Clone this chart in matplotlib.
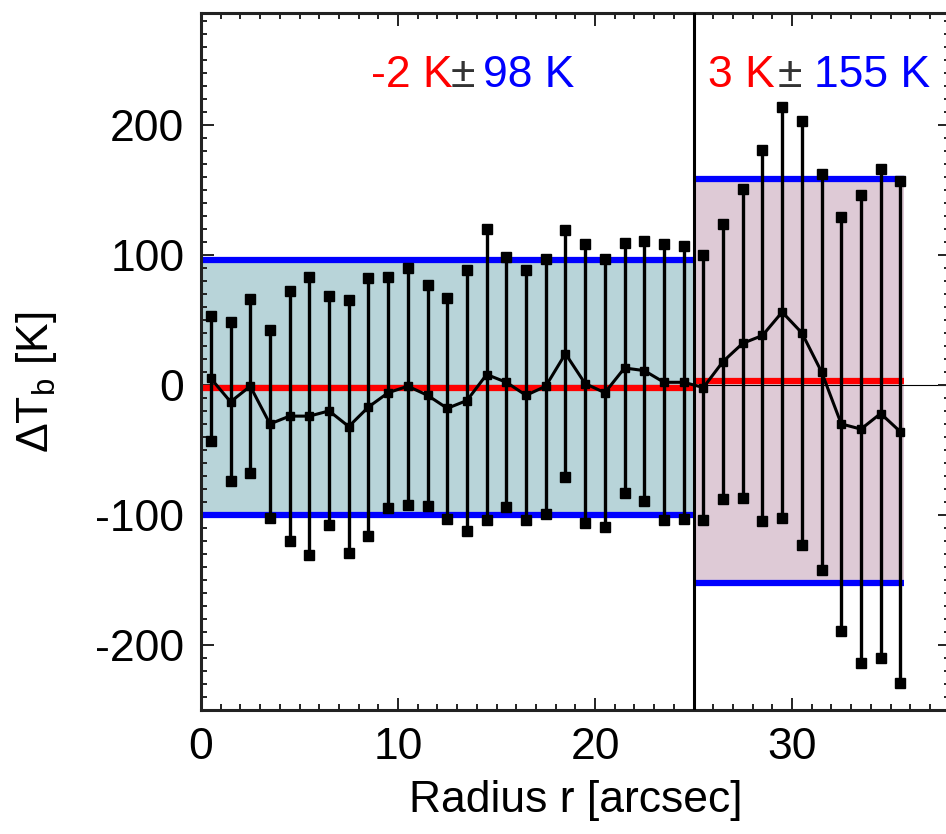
import numpy as np
import matplotlib
matplotlib.use('Agg')
import matplotlib.pyplot as plt
from matplotlib.ticker import MultipleLocator

plt.rcParams['font.family'] = ['Liberation Sans', 'DejaVu Sans']
plt.rcParams['mathtext.fontset'] = 'custom'
plt.rcParams['mathtext.rm'] = 'Liberation Sans'
plt.rcParams['mathtext.it'] = 'Liberation Sans:italic'
plt.rcParams['axes.unicode_minus'] = False

# radial bins [arcsec] and brightness temperature residuals [K]
radius = np.arange(0.5, 36.0, 1.0)
dtb = [5, -13, -1, -30, -24, -24, -20, -32, -17, -6,
       -1, -8, -18, -12, 8, 2, -8, -1, 24, 1,
       -6, 13, 11, 2, 2,
       -2, 18, 32, 38, 56, 40, 10, -30, -34, -22, -36]
dtb_err = [48, 61, 67, 72, 96, 107, 88, 97, 99, 89,
           91, 85, 85, 100, 112, 96, 96, 98, 95, 107,
           103, 96, 100, 106, 105,
           102, 106, 119, 143, 158, 163, 152, 159, 180, 188, 193]

# region boundaries and region statistics (mean, rms)
r_split = 25.0
r_end = 35.7
inner_mean, inner_rms = -2, 98
outer_mean, outer_rms = 3, 155

radius = np.asarray(radius)
dtb = np.asarray(dtb, dtype=float)
dtb_err = np.asarray(dtb_err, dtype=float)

fig = plt.figure(figsize=(9.46, 8.34), dpi=100)
ax = fig.add_axes([201/946, 1-710/834, (949.6-201)/946, (710-13)/834])

fs = 32

# shaded regions
ax.fill_between([0, r_split], inner_mean - inner_rms, inner_mean + inner_rms,
                color='#b8d4d9', lw=0, zorder=1)
ax.fill_between([r_split, r_end], outer_mean - outer_rms, outer_mean + outer_rms,
                color='#decad6', lw=0, zorder=1)
ax.axhline(0, color='k', lw=0.8, zorder=1.5)

# mean and +/- rms lines
ax.plot([0, r_split], [inner_mean]*2, color='red', lw=4.5, zorder=2, solid_capstyle='butt')
ax.plot([r_split, r_end], [outer_mean]*2, color='red', lw=4.5, zorder=2, solid_capstyle='butt')
for s in (-1, 1):
    ax.plot([0, r_split], [inner_mean + s*inner_rms]*2, color='blue', lw=4.5, zorder=2,
            solid_capstyle='butt')
    ax.plot([r_split, r_end], [outer_mean + s*outer_rms]*2, color='blue', lw=4.5, zorder=2,
            solid_capstyle='butt')

ax.axvline(r_split, color='k', lw=2.2, zorder=3)

# data with error bars
ax.errorbar(radius, dtb, yerr=dtb_err, fmt='none', ecolor='k', elinewidth=2.4, capsize=0, zorder=4)
ax.plot(radius, dtb, '-', color='k', lw=2.2, zorder=5)
ax.plot(radius, dtb, 's', color='k', ms=5.5, zorder=5)
ax.plot(radius, dtb + dtb_err, 's', color='k', ms=6.5, zorder=5)
ax.plot(radius, dtb - dtb_err, 's', color='k', ms=6.5, zorder=5)

# annotations
ty = 238
ax.text(12.75, ty, '%d K' % inner_mean, color='red', fontsize=fs, ha='right', va='center', zorder=6)
ax.text(13.3, ty, '\u00b1', color='#333333', fontsize=fs, ha='center', va='center', zorder=6)
ax.text(14.3, ty, '%d K' % inner_rms, color='blue', fontsize=fs, ha='left', va='center', zorder=6)
ax.text(29.1, ty, '%d K' % outer_mean, color='red', fontsize=fs, ha='right', va='center', zorder=6)
ax.text(29.9, ty, '\u00b1', color='#333333', fontsize=fs, ha='center', va='center', zorder=6)
ax.text(31.1, ty, '%d K' % outer_rms, color='blue', fontsize=fs, ha='left', va='center', zorder=6)

ax.set_xlim(0, 38)
ax.set_ylim(-250, 286)
ax.xaxis.set_major_locator(MultipleLocator(10))
ax.xaxis.set_minor_locator(MultipleLocator(1))
ax.yaxis.set_major_locator(MultipleLocator(100))
ax.yaxis.set_minor_locator(MultipleLocator(10))
ax.tick_params(which='both', direction='in', top=True, right=True, width=1.4, color='#222222')
ax.tick_params(which='major', length=9, labelsize=fs, pad=12)
ax.tick_params(which='minor', length=4)
for sp in ax.spines.values():
    sp.set_linewidth(2.2)
    sp.set_color('#222222')

ax.set_xlabel('Radius r [arcsec]', fontsize=fs, labelpad=9)
ax.set_ylabel('\u0394T$_\\mathrm{b}$ [K]', fontsize=fs, labelpad=14)
ax.yaxis.set_label_coords(-0.19, 0.47)

fig.savefig('out.png', dpi=100)
